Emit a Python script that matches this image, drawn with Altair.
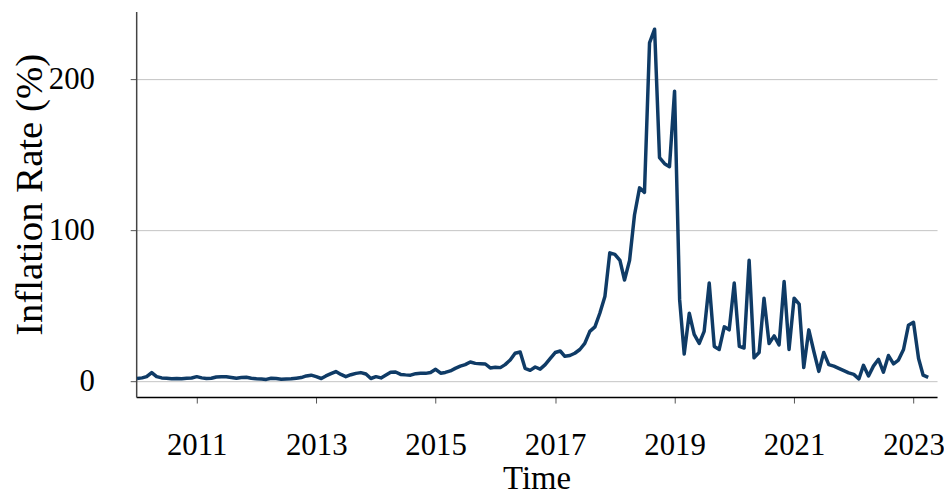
import altair as alt
import pandas as pd

# Monthly inflation rate (%) from 2010-01 to 2023-04
start_month = "2010-01-01"
n_months = 160
inflation = [
    1.8, 2.2, 3.0, 5.7, 3.0, 2.2, 2.0, 1.6, 1.8, 1.6, 2.0, 2.1,
    3.0, 2.2, 1.8, 2.0, 2.8, 3.0, 3.0, 2.5, 2.0, 2.4, 2.6, 2.0,
    1.6, 1.4, 1.2, 2.0, 1.8, 1.3, 1.5, 1.6, 2.0, 2.4, 3.5, 4.0,
    3.0, 1.8, 3.5, 5.0, 6.4, 4.5, 3.0, 4.3, 5.2, 5.7, 4.8, 1.8,
    3.0, 2.2, 4.0, 6.0, 6.1, 4.5, 4.2, 4.0, 5.0, 5.3, 5.2, 5.8,
    7.9, 5.3, 5.8, 6.8, 8.5, 10.0, 11.0, 12.7, 11.8, 11.6, 11.4, 8.8,
    9.2, 9.0, 11.0, 14.0, 18.5, 19.3, 8.5, 7.2, 9.4, 8.0, 11.0, 15.0,
    19.0, 20.0, 16.5, 17.0, 18.5, 21.0, 25.0, 33.0, 36.0, 45.0, 56.0, 85.0,
    84.0, 80.0, 67.0, 80.0, 110.0, 128.0, 125.0, 224.0, 233.0, 148.0, 144.0, 142.0,
    192.0, 54.0, 18.0, 45.0, 31.0, 25.0, 33.0, 65.0, 23.0, 21.0, 36.0, 34.0,
    65.0, 23.0, 22.0, 80.0, 15.5, 19.0, 55.0, 25.0, 30.0, 24.0, 66.0, 21.0,
    55.0, 51.0, 9.0, 34.0, 20.0, 6.5, 19.0, 11.0, 10.0, 8.5, 7.0, 5.5,
    4.5, 1.5, 10.5, 3.5, 10.0, 14.5, 6.0, 17.0, 11.5, 14.0, 21.0, 37.0,
    39.0, 15.0, 4.0, 2.5,
]
x_tick_years = [2011, 2013, 2015, 2017, 2019, 2021, 2023]
y_ticks = [0, 100, 200]

dates = pd.date_range(start_month, periods=n_months, freq="MS")
df = pd.DataFrame({"Time": dates, "Inflation": inflation})

FONT = "Liberation Serif"

chart = (
    alt.Chart(df)
    .mark_line(color="#0f3b66", strokeWidth=3.5, strokeJoin="round")
    .encode(
        x=alt.X(
            "Time:T",
            title="Time",
            scale=alt.Scale(
                domain=[
                    alt.DateTime(year=2009, month=12, date=27),
                    alt.DateTime(year=2023, month=5, date=25),
                ]
            ),
            axis=alt.Axis(
                values=[alt.DateTime(year=y, month=1, date=1) for y in x_tick_years],
                format="%Y",
                grid=False,
                domainColor="#000000",
                domainWidth=1.5,
                tickColor="#555555",
                tickSize=6,
                tickWidth=1,
                labelFont=FONT,
                labelFontSize=31,
                labelColor="#000000",
                labelPadding=28,
                labelFlush=False,
                titleFont=FONT,
                titleFontSize=33,
                titleFontWeight="normal",
                titleColor="#000000",
                titlePadding=2,
            ),
        ),
        y=alt.Y(
            "Inflation:Q",
            title="Inflation Rate (%)",
            scale=alt.Scale(domain=[-10.5, 244.7], nice=False, zero=False),
            axis=alt.Axis(
                values=y_ticks,
                grid=True,
                gridColor="#c4c4c4",
                gridWidth=1,
                domainColor="#444444",
                domainWidth=1.5,
                tickColor="#555555",
                tickSize=6,
                tickWidth=1,
                labelFont=FONT,
                labelFontSize=31,
                labelColor="#000000",
                labelPadding=36,
                titleFont=FONT,
                titleFontSize=39,
                titleFontWeight="normal",
                titleColor="#000000",
                titleAngle=270,
                titleAlign="center",
                titleBaseline="middle",
                titleX=-107,
                titleY=184,
            ),
        ),
    )
    .properties(
        width=806,
        height=388,
        autosize=alt.AutoSizeParams(type="none"),
        padding={"left": 129, "top": 2, "right": 7, "bottom": 100},
    )
    .configure_view(stroke=None)
)

chart.save("out.html", embed_options={"renderer": "svg", "actions": False})
